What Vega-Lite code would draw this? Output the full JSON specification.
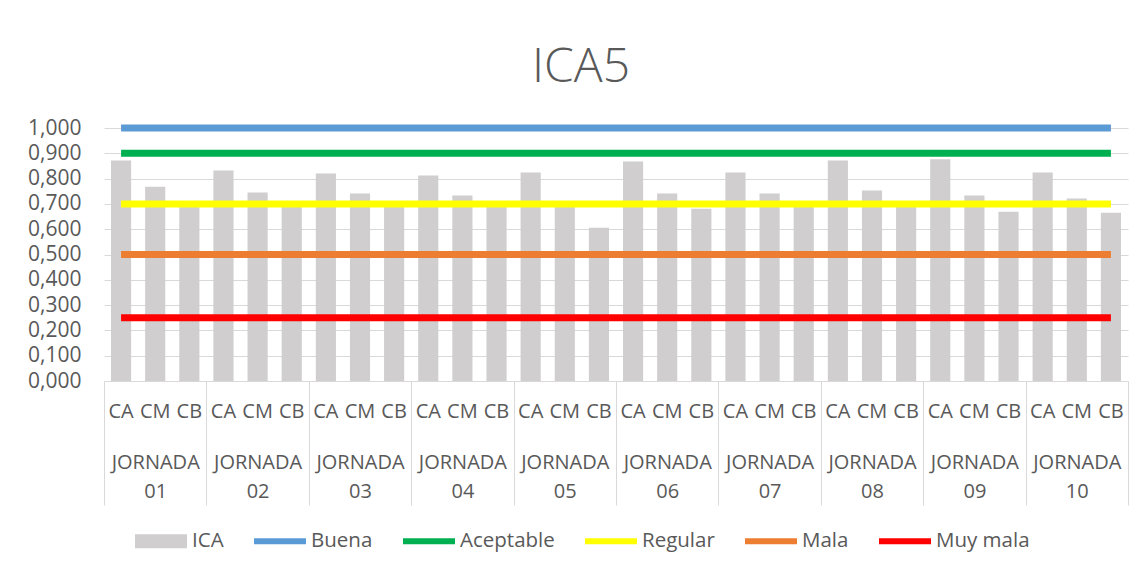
{
  "$schema": "https://vega.github.io/schema/vega-lite/v6.json",
  "width": 1024,
  "height": 253,
  "autosize": {"type": "none"},
  "padding": {"left": 104, "top": 128, "right": 18, "bottom": 190},
  "background": "white",
  "config": {
    "locale": {"number": {"decimal": ",", "thousands": ".", "grouping": [3], "currency": ["", " €"]}},
    "view": {"stroke": null},
    "font": "Open Sans",
    "legend": {"padding": 0}
  },
  "title": {
    "text": "ICA5",
    "font": "Open Sans",
    "fontSize": 48,
    "fontWeight": 300,
    "color": "#595959",
    "anchor": "middle",
    "offset": 22,
    "dx": -35
  },
  "datasets": {
    "ica": [
      {"jornada": "01", "key": "01-CA", "serie": "ICA", "valor": 0.872},
      {"jornada": "01", "key": "01-CM", "serie": "ICA", "valor": 0.768},
      {"jornada": "01", "key": "01-CB", "serie": "ICA", "valor": 0.698},
      {"jornada": "02", "key": "02-CA", "serie": "ICA", "valor": 0.832},
      {"jornada": "02", "key": "02-CM", "serie": "ICA", "valor": 0.745},
      {"jornada": "02", "key": "02-CB", "serie": "ICA", "valor": 0.692},
      {"jornada": "03", "key": "03-CA", "serie": "ICA", "valor": 0.820},
      {"jornada": "03", "key": "03-CM", "serie": "ICA", "valor": 0.741},
      {"jornada": "03", "key": "03-CB", "serie": "ICA", "valor": 0.693},
      {"jornada": "04", "key": "04-CA", "serie": "ICA", "valor": 0.812},
      {"jornada": "04", "key": "04-CM", "serie": "ICA", "valor": 0.733},
      {"jornada": "04", "key": "04-CB", "serie": "ICA", "valor": 0.694},
      {"jornada": "05", "key": "05-CA", "serie": "ICA", "valor": 0.824},
      {"jornada": "05", "key": "05-CM", "serie": "ICA", "valor": 0.695},
      {"jornada": "05", "key": "05-CB", "serie": "ICA", "valor": 0.606},
      {"jornada": "06", "key": "06-CA", "serie": "ICA", "valor": 0.868},
      {"jornada": "06", "key": "06-CM", "serie": "ICA", "valor": 0.741},
      {"jornada": "06", "key": "06-CB", "serie": "ICA", "valor": 0.681},
      {"jornada": "07", "key": "07-CA", "serie": "ICA", "valor": 0.824},
      {"jornada": "07", "key": "07-CM", "serie": "ICA", "valor": 0.741},
      {"jornada": "07", "key": "07-CB", "serie": "ICA", "valor": 0.695},
      {"jornada": "08", "key": "08-CA", "serie": "ICA", "valor": 0.872},
      {"jornada": "08", "key": "08-CM", "serie": "ICA", "valor": 0.753},
      {"jornada": "08", "key": "08-CB", "serie": "ICA", "valor": 0.693},
      {"jornada": "09", "key": "09-CA", "serie": "ICA", "valor": 0.876},
      {"jornada": "09", "key": "09-CM", "serie": "ICA", "valor": 0.733},
      {"jornada": "09", "key": "09-CB", "serie": "ICA", "valor": 0.669},
      {"jornada": "10", "key": "10-CA", "serie": "ICA", "valor": 0.824},
      {"jornada": "10", "key": "10-CM", "serie": "ICA", "valor": 0.721},
      {"jornada": "10", "key": "10-CB", "serie": "ICA", "valor": 0.665}
    ],
    "limites": [
      {"serie": "Buena", "key": "01-CA", "valor": 1.0},
      {"serie": "Buena", "key": "10-CB", "valor": 1.0},
      {"serie": "Aceptable", "key": "01-CA", "valor": 0.9},
      {"serie": "Aceptable", "key": "10-CB", "valor": 0.9},
      {"serie": "Regular", "key": "01-CA", "valor": 0.7},
      {"serie": "Regular", "key": "10-CB", "valor": 0.7},
      {"serie": "Mala", "key": "01-CA", "valor": 0.5},
      {"serie": "Mala", "key": "10-CB", "valor": 0.5},
      {"serie": "Muy mala", "key": "01-CA", "valor": 0.25},
      {"serie": "Muy mala", "key": "10-CB", "valor": 0.25}
    ]
  },
  "layer": [
    {
      "data": {"name": "ica"},
      "mark": {"type": "bar"},
      "encoding": {
        "x": {
          "field": "key", "type": "nominal", "sort": null,
          "scale": {"paddingInner": 0.41, "paddingOuter": 0.205},
          "axis": {
            "orient": "bottom", "title": null,
            "labelExpr": "split(datum.label, '-')[1]",
            "labelAngle": 0, "labelFontSize": 20, "labelColor": "#595959",
            "labelPadding": 30, "labelBaseline": "middle",
            "ticks": false, "domain": true, "domainColor": "#d9d9d9", "domainWidth": 1,
            "grid": false, "labelOverlap": false
          }
        },
        "y": {
          "field": "valor", "type": "quantitative",
          "scale": {"domain": [0, 1], "nice": false},
          "axis": {
            "title": null,
            "values": [0, 0.1, 0.2, 0.3, 0.4, 0.5, 0.6, 0.7, 0.8, 0.9, 1.0],
            "tickCount": 20,
            "format": ".3f",
            "grid": true, "gridColor": "#d9d9d9", "gridWidth": 1,
            "domain": false, "ticks": false, "labelOverlap": false,
            "labelFontSize": 21, "labelColor": "#595959", "labelPadding": 23
          }
        },
        "color": {
          "field": "serie", "type": "nominal",
          "scale": {
            "domain": ["ICA", "Buena", "Aceptable", "Regular", "Mala", "Muy mala"],
            "range": ["#d0cece", "#5b9bd5", "#00b050", "#ffff00", "#ed7d31", "#ff0000"]
          },
          "legend": {
            "orient": "none", "legendX": 31, "legendY": 387,
            "direction": "horizontal", "columns": 6,
            "title": null,
            "labelFontSize": 20.5, "labelColor": "#595959",
            "labelOffset": 5, "columnPadding": 30,
            "symbolSize": 2704, "symbolStrokeWidth": 0,
            "encode": {
              "symbols": {
                "update": {
                  "shape": {"signal": "datum.value === 'ICA' ? 'M-1,-0.27H1V0.27H-1Z' : 'M-1,-0.115H1V0.115H-1Z'"},
                  "fill": {"scale": "color", "field": "value"},
                  "stroke": {"value": "transparent"},
                  "opacity": {"value": 1}
                }
              }
            }
          }
        }
      }
    },
    {
      "data": {"name": "limites"},
      "mark": {"type": "line", "strokeWidth": 7, "strokeCap": "butt"},
      "encoding": {
        "x": {
          "field": "key", "type": "nominal",
          "scale": {
            "type": "band", "paddingInner": 0.41, "paddingOuter": 0.205,
            "domain": ["01-CA","01-CM","01-CB","02-CA","02-CM","02-CB","03-CA","03-CM","03-CB","04-CA","04-CM","04-CB","05-CA","05-CM","05-CB","06-CA","06-CM","06-CB","07-CA","07-CM","07-CB","08-CA","08-CM","08-CB","09-CA","09-CM","09-CB","10-CA","10-CM","10-CB"]
          },
          "axis": null
        },
        "y": {"field": "valor", "type": "quantitative"},
        "color": {"field": "serie", "type": "nominal"}
      }
    },
    {
      "data": {"name": "ica"},
      "mark": {"type": "text", "text": "", "opacity": 0},
      "encoding": {
        "x": {
          "field": "jornada", "type": "nominal",
          "scale": {"type": "band", "paddingInner": 0, "paddingOuter": 0},
          "axis": {
            "orient": "bottom", "title": null,
            "tickBand": "extent", "ticks": true, "tickSize": 124,
            "tickColor": "#d9d9d9", "tickWidth": 1,
            "domain": false, "grid": false,
            "labelExpr": "datum.label ? ['JORNADA', datum.label] : ''",
            "labelAngle": 0, "labelAlign": "center", "labelBound": false,
            "labelFontSize": 20, "labelColor": "#595959",
            "labelPadding": -53, "labelBaseline": "top", "labelLineHeight": 29,
            "labelOverlap": false, "labelFlush": false
          }
        }
      }
    }
  ],
  "resolve": {"scale": {"x": "independent"}, "axis": {"x": "independent"}}
}
